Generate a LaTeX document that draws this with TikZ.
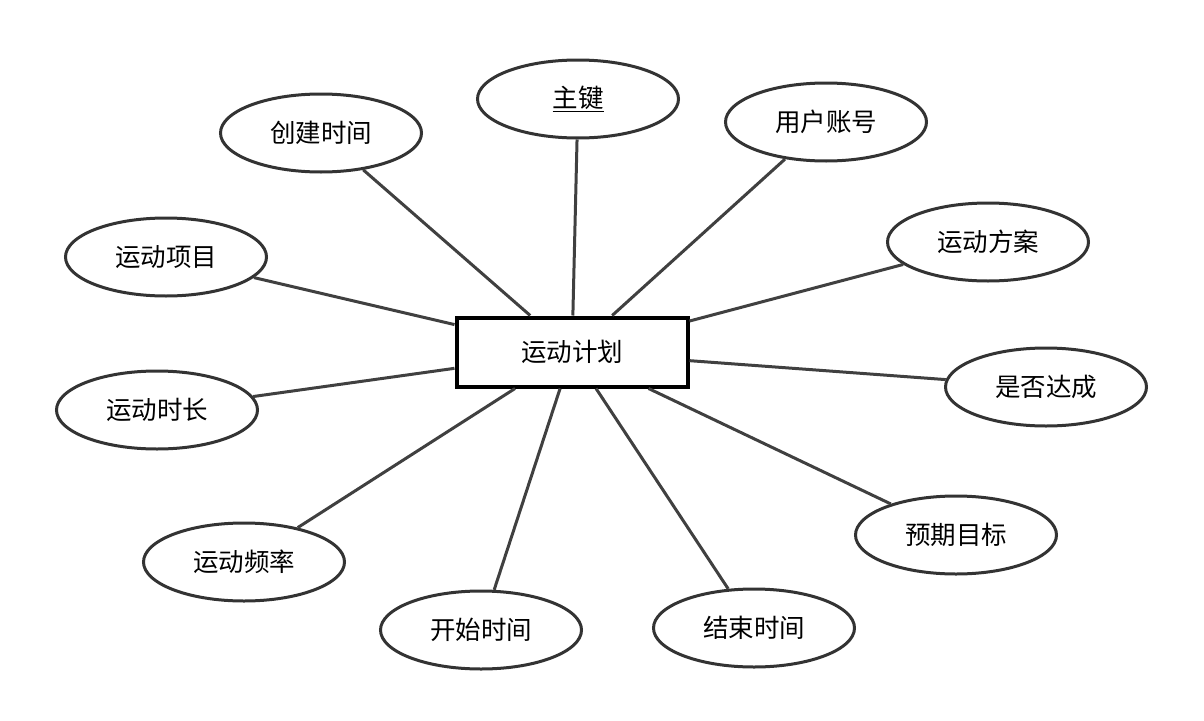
\documentclass[tikz,border=0pt]{standalone}
\usepackage{fontspec}
\setmainfont{Noto Sans CJK SC}
\usetikzlibrary{shapes.geometric}
\begin{document}
\begin{tikzpicture}[x=1pt,y=-1pt,
  attr/.style={ellipse,draw=black!80,line width=3pt,minimum width=201pt,minimum height=78pt,inner sep=0pt,font=\fontsize{25.5}{30}\selectfont},
  entity/.style={rectangle,draw=black,line width=4pt,minimum width=231pt,minimum height=69pt,inner sep=0pt,font=\fontsize{25.5}{30}\selectfont},
  link/.style={draw=black!75,line width=3pt}]
\useasboundingbox (0,0) rectangle (1204,720);
\node[entity] (c) at (572,352) {运动计划};
\node[attr] (pk) at (578,99) {\underline{主键}};
\node[attr] (cj) at (321,133) {创建时间};
\node[attr] (yh) at (826,122) {用户账号};
\node[attr] (fa) at (988,242) {运动方案};
\node[attr] (xm) at (166,257) {运动项目};
\node[attr] (dc) at (1046,387) {是否达成};
\node[attr] (sc) at (157,410) {运动时长};
\node[attr] (mb) at (956,535) {预期目标};
\node[attr] (pl) at (244,562) {运动频率};
\node[attr] (ks) at (481,630) {开始时间};
\node[attr] (js) at (754,628) {结束时间};
\foreach \n in {pk,cj,yh,fa,xm,dc,sc,mb,pl,ks,js}
  \draw[link] (\n) -- (c);
\end{tikzpicture}
\end{document}
